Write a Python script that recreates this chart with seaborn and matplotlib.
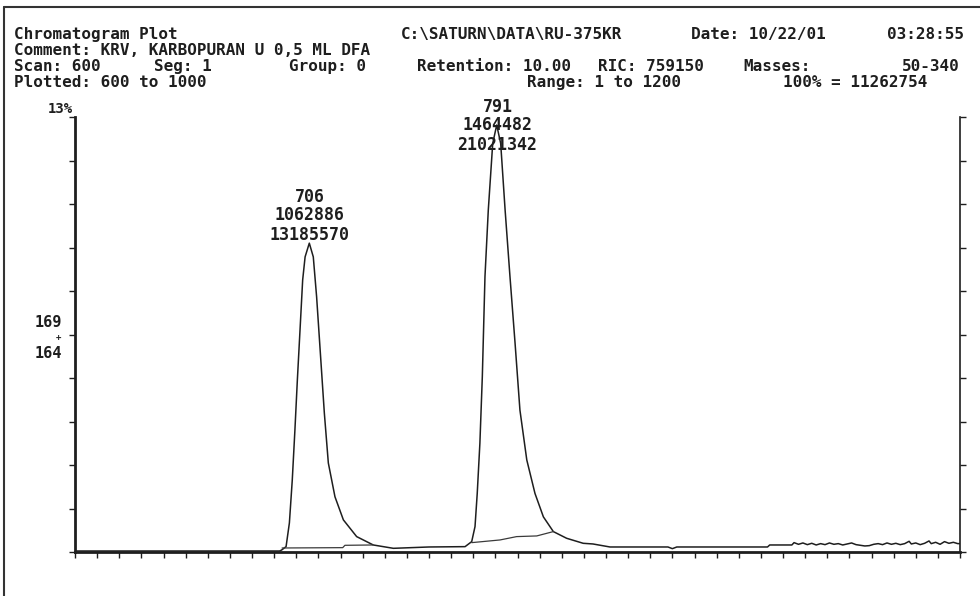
import matplotlib
matplotlib.use("Agg")
import matplotlib.pyplot as plt
from matplotlib.lines import Line2D
import seaborn as sns
import pandas as pd
import numpy as np

# ---------------- data ----------------
trace_scan = [600, 640, 680, 692.5, 693.4, 695.4, 696.9, 698.2, 699.4, 700.5,
              701.7, 702.9, 704.0, 705.9, 707.7, 709.2, 710.7, 712.7, 714.5,
              717.5, 721.3, 727.3, 734.8, 743.9, 760, 776.3, 779.3, 780.8,
              781.8, 783.0, 784.1, 785.3, 786.8, 788.8, 790.6, 792.4, 794.4,
              796.6, 798.9, 801.1, 804.2, 807.9, 811.7, 816.2, 822.2, 829.7,
              834.1, 841.8, 868, 870, 872, 900, 913, 914, 924, 925, 927, 929,
              931, 933, 935, 937, 939, 941, 943, 945, 947, 949, 951, 953, 955,
              957, 959, 961, 963, 965, 967, 969, 971, 973, 975, 977, 978, 980,
              982, 984, 986, 987, 989, 991, 993, 995, 997, 999, 1000]
trace_pct = [0.03, 0.03, 0.03, 0.03, 0.06, 0.16, 0.87, 2.15, 3.65, 5.14,
             6.63, 8.13, 8.82, 9.23, 8.82, 7.63, 6.14, 4.15, 2.66,
             1.65, 0.96, 0.46, 0.21, 0.11, 0.15, 0.16, 0.31, 0.76,
             1.75, 3.25, 5.24, 8.23, 10.22, 12.21, 12.76, 12.21, 10.22,
             8.23, 6.24, 4.24, 2.75, 1.75, 1.05, 0.61, 0.41, 0.26,
             0.24, 0.15, 0.15, 0.10, 0.15, 0.15, 0.15, 0.21, 0.21, 0.28, 0.23, 0.27,
             0.22, 0.26, 0.21, 0.25, 0.22, 0.27, 0.23, 0.25, 0.21, 0.24, 0.27, 0.22, 0.20,
             0.18, 0.19, 0.23, 0.25, 0.22, 0.27, 0.23, 0.26, 0.22, 0.25, 0.32, 0.24, 0.27,
             0.22, 0.26, 0.33, 0.25, 0.29, 0.23, 0.31, 0.26, 0.29, 0.25, 0.25]

base1_scan = [693.6, 721.0, 722.0, 734.7]
base1_pct = [0.12, 0.13, 0.20, 0.21]
base2_scan = [779.3, 792.1, 799.6, 808.7, 816.2]
base2_pct = [0.28, 0.36, 0.46, 0.48, 0.61]

peak_scans = [706, 791]
peak_heights = ["1062886", "1464482"]
peak_areas = ["13185570", "21021342"]

# (text, x pixel, baseline y pixel, horizontal alignment)
header_lines = [
    ("Chromatogram Plot", 14, 39, "left"),
    ("C:\\SATURN\\DATA\\RU-375KR", 512, 39, "center"),
    ("Date: 10/22/01", 758, 39, "center"),
    ("03:28:55", 925, 39, "center"),
    ("Comment: KRV, KARBOPURAN U 0,5 ML DFA", 14, 55, "left"),
    ("Scan: 600", 14, 71, "left"),
    ("Seg: 1", 183, 71, "center"),
    ("Group: 0", 327, 71, "center"),
    ("Retention: 10.00", 494, 71, "center"),
    ("RIC: 759150", 651, 71, "center"),
    ("Masses:", 777, 71, "center"),
    ("50-340", 931, 71, "center"),
    ("Plotted: 600 to 1000", 14, 87, "left"),
    ("Range: 1 to 1200", 604, 87, "center"),
    ("100% = 11262754", 855, 87, "center"),
]

# ---------------- style ----------------
sns.set_style("white")
plt.rcParams['font.family'] = ['DejaVu Sans Mono', 'DejaVu Sans']
ink = "#1e1e1e"

W, H, DPI = 980, 596, 100
fig = plt.figure(figsize=(W / DPI, H / DPI), dpi=DPI)
fig.patch.set_facecolor("white")
ax = fig.add_axes([75 / W, (H - 552) / H, (960 - 75) / W, (552 - 117) / H])

trace = pd.DataFrame({"scan": trace_scan, "pct": trace_pct})
b1 = pd.DataFrame({"scan": base1_scan, "pct": base1_pct})
b2 = pd.DataFrame({"scan": base2_scan, "pct": base2_pct})

sns.lineplot(data=trace, x="scan", y="pct", sort=False, estimator=None,
             color=ink, lw=1.1, ax=ax)
sns.lineplot(data=b1, x="scan", y="pct", sort=False, estimator=None,
             color="#3a3a3a", lw=0.9, ax=ax)
sns.lineplot(data=b2, x="scan", y="pct", sort=False, estimator=None,
             color="#3a3a3a", lw=0.9, ax=ax)

ax.set_xlim(600, 1000)
ax.set_ylim(0, 13)
ax.set_xlabel("")
ax.set_ylabel("")

ax.set_xticks(np.arange(600, 1001, 10))
ax.set_yticks(np.linspace(0, 13, 11))
ax.set_yticks([6.5, 13], minor=True)
ax.tick_params(which="major", axis="both", direction="out", length=4,
               width=1.0, color=ink, labelbottom=False, labelleft=False)
ax.tick_params(which="major", axis="y", left=True, right=True)
ax.tick_params(which="major", axis="x", bottom=True)
ax.tick_params(which="minor", axis="y", left=False, right=True,
               direction="out", length=8, width=1.2, color=ink)

ax.spines["top"].set_visible(False)
for side, lw in (("left", 2.0), ("bottom", 2.0), ("right", 1.2)):
    ax.spines[side].set_color(ink)
    ax.spines[side].set_linewidth(lw)

# ---------------- texts ----------------
fs = 11.5
for txt, x, y, ha in header_lines:
    fig.text(x / W, 1 - y / H, txt, fontsize=fs, fontweight="bold",
             color=ink, ha=ha, va="baseline")

fig.text(73 / W, 1 - 113 / H, "13%", fontsize=10, fontweight="bold",
         color=ink, ha="right", va="baseline")
fig.text(62 / W, 1 - 327 / H, "169", fontsize=11, fontweight="bold",
         color=ink, ha="right", va="baseline")
fig.text(62 / W, 1 - 358 / H, "164", fontsize=11, fontweight="bold",
         color=ink, ha="right", va="baseline")
fig.text(58 / W, 1 - 337 / H, "+", fontsize=6.5, fontweight="bold",
         color=ink, ha="center", va="center")

label_base = {706: (202, 220, 240), 791: (112, 130, 150)}
for sc, h, a in zip(peak_scans, peak_heights, peak_areas):
    for txt, yb in zip((str(sc), h, a), label_base[sc]):
        ax.annotate(txt, xy=(sc, H - yb), xycoords=("data", "figure pixels"),
                    fontsize=12, fontweight="bold", color=ink,
                    ha="center", va="baseline", annotation_clip=False)

# outer frame of the scanned page
fig.add_artist(Line2D([4 / W, 1.0], [1 - 7 / H, 1 - 7 / H],
                      transform=fig.transFigure, color="#333333", lw=1.5))
fig.add_artist(Line2D([4 / W, 4 / W], [0, 1 - 7 / H],
                      transform=fig.transFigure, color="#333333", lw=1.5))

fig.savefig("out.png", dpi=DPI, facecolor="white")
